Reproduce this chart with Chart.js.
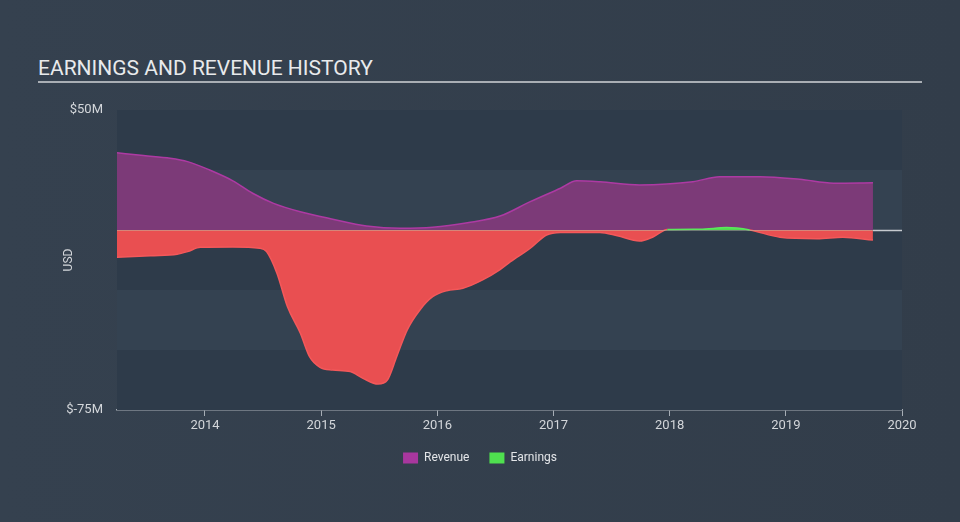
<!DOCTYPE html>
<html>
<head>
<meta charset="utf-8">
<title>Earnings and Revenue History</title>
<script src="https://cdn.jsdelivr.net/npm/chart.js@4.4.0/dist/chart.umd.min.js"></script>
<style>
  html, body { margin: 0; padding: 0; }
  body { width: 960px; height: 522px; background: linear-gradient(to right, #35414f, #323d4a); overflow: hidden; font-family: Roboto, sans-serif; }
  #wrap { position: relative; width: 960px; height: 522px; }
  #title { position: absolute; left: 38px; top: 58px; font-size: 21px; line-height: 21px; color: #e8eaec; letter-spacing: 0; white-space: nowrap; }
  #rule { position: absolute; left: 38px; top: 81px; width: 884px; height: 2px; background: #a9aeb4; }
  canvas { position: absolute; left: 0; top: 0; }
</style>
</head>
<body>
<div id="wrap">
  <div id="title">EARNINGS AND REVENUE HISTORY</div>
  <div id="rule"></div>
  <canvas id="myChart" width="960" height="522"></canvas>
</div>
<script>
// fechas en años decimales, valores en millones USD
const revenueDates = [2013.24, 2013.47, 2013.70, 2013.85, 2014.04, 2014.24, 2014.41, 2014.59, 2014.82, 2015.10,
  2015.39, 2015.68, 2015.96, 2016.26, 2016.54, 2016.80, 2017.06, 2017.20, 2017.40, 2017.74,
  2018.20, 2018.43, 2018.78, 2019.12, 2019.41, 2019.75];
const revenue = [32.2, 31.0, 29.9, 28.5, 25.0, 20.5, 15.3, 11.1, 7.6, 4.5,
  1.7, 0.7, 1.1, 3.0, 5.8, 11.8, 17.4, 20.5, 20.1, 18.8,
  20.1, 22.2, 22.2, 21.1, 19.5, 19.7];

const earningsDates = [2013.24, 2013.53, 2013.76, 2013.85, 2013.96, 2014.24, 2014.47, 2014.53, 2014.62, 2014.71,
  2014.82, 2014.90, 2014.99, 2015.10, 2015.25, 2015.36, 2015.49, 2015.57, 2015.65, 2015.74,
  2015.85, 2015.96, 2016.08, 2016.22, 2016.39, 2016.54, 2016.63, 2016.80, 2016.94, 2017.06,
  2017.40, 2017.55, 2017.74, 2017.86, 2017.98, 2018.26, 2018.49, 2018.69, 2018.95, 2019.27,
  2019.49, 2019.75];
const earnings = [-11.4, -10.7, -10.1, -9.0, -7.2, -7.1, -7.6, -9.0, -18.1, -32.0,
  -42.9, -52.8, -57.2, -58.3, -59.0, -61.8, -64.2, -62.5, -52.8, -41.7,
  -33.3, -27.8, -25.3, -24.3, -20.8, -16.5, -13.2, -7.6, -2.1, -1.0,
  -1.0, -2.4, -4.6, -2.8, 0.2, 0.3, 1.0, 0.0, -3.0, -3.6,
  -3.0, -4.2];

const xTicks = [2014, 2015, 2016, 2017, 2018, 2019, 2020];
const yMin = -75;
const yMax = 50;
const yStep = 25;

const tickColor = '#d3d6da';
const axisColor = '#a7aeb6';

// franjas horizontales y linea de cero
const bandPlugin = {
  id: 'bands',
  beforeDatasetsDraw(chart) {
    const { ctx, chartArea: a, scales: { y } } = chart;
    ctx.save();
    let i = 0;
    for (let v = yMax; v > yMin; v -= yStep) {
      const top = y.getPixelForValue(v);
      const bottom = y.getPixelForValue(v - yStep);
      ctx.fillStyle = i % 2 === 0 ? '#2e3b4a' : '#344251';
      ctx.fillRect(a.left, top, a.right - a.left, bottom - top);
      i++;
    }
    ctx.restore();
  },
  afterDatasetsDraw(chart) {
    const { ctx, chartArea: a, scales: { x, y } } = chart;
    const y0 = Math.round(y.getPixelForValue(0)) + 0.5;
    const end = x.getPixelForValue(revenueDates[revenueDates.length - 1]);
    ctx.save();
    ctx.lineWidth = 1;
    ctx.strokeStyle = 'rgba(190, 200, 170, 0.45)';
    ctx.beginPath();
    ctx.moveTo(a.left, y0);
    ctx.lineTo(end, y0);
    ctx.stroke();
    ctx.lineWidth = 1.5;
    ctx.strokeStyle = '#c6cacf';
    ctx.beginPath();
    ctx.moveTo(end, y0);
    ctx.lineTo(a.right, y0);
    ctx.stroke();
    ctx.restore();
  }
};

Chart.defaults.font.family = 'Roboto, sans-serif';

const ctx = document.getElementById('myChart');
new Chart(ctx, {
  type: 'line',
  data: {
    datasets: [
      {
        label: 'Revenue',
        data: revenueDates.map((d, i) => ({ x: d, y: revenue[i] })),
        borderColor: '#ad3aa3',
        borderWidth: 1.5,
        backgroundColor: '#7c3a78',
        fill: 'origin',
        pointRadius: 0,
        cubicInterpolationMode: 'monotone',
        order: 2
      },
      {
        label: 'Earnings',
        data: earningsDates.map((d, i) => ({ x: d, y: earnings[i] })),
        borderColor: '#f4585a',
        borderWidth: 1.5,
        segment: {
          borderColor: (c) => (c.p0.parsed.y >= 0 && c.p1.parsed.y >= 0) ? '#5be85b' : '#f4585a'
        },
        backgroundColor: '#e94f51',
        fill: { target: 'origin', above: '#4fdc4f', below: '#e94f51' },
        pointRadius: 0,
        cubicInterpolationMode: 'monotone',
        order: 1
      }
    ]
  },
  options: {
    responsive: false,
    animation: false,
    layout: { padding: { top: 110, right: 0, bottom: 48, left: 0 } },
    scales: {
      x: {
        type: 'linear',
        min: 2013.2425,
        max: 2020,
        afterBuildTicks: (scale) => { scale.ticks = xTicks.map(v => ({ value: v })); },
        afterFit: (scale) => { scale.height = 22; },
        ticks: {
          color: tickColor,
          font: { size: 13 },
          padding: 2,
          maxRotation: 0,
          callback: (v) => String(v)
        },
        grid: { drawOnChartArea: false, drawTicks: true, tickLength: 6, color: axisColor },
        border: { display: true, color: axisColor, width: 1.5 }
      },
      y: {
        min: yMin,
        max: yMax,
        afterFit: (scale) => { scale.width = 117; },
        ticks: {
          stepSize: yStep,
          color: tickColor,
          font: { size: 13 },
          padding: 14,
          callback: (v) => v === yMax ? '$50M' : (v === yMin ? '$-75M' : '')
        },
        grid: { display: false, drawTicks: false },
        border: { display: false },
        title: { display: true, text: 'USD', color: tickColor, font: { size: 12 }, padding: { top: 62, bottom: 0 } }
      },
      // eje vacio a la derecha para dejar el margen
      yRight: {
        position: 'right',
        min: yMin,
        max: yMax,
        afterFit: (scale) => { scale.width = 58; },
        ticks: { display: false },
        grid: { display: false, drawTicks: false },
        border: { display: false }
      }
    },
    plugins: {
      tooltip: { enabled: false },
      legend: {
        position: 'bottom',
        labels: {
          boxWidth: 15,
          boxHeight: 11,
          padding: 20,
          color: '#e3e5e8',
          font: { size: 12 },
          generateLabels: () => [
            { text: 'Revenue', fillStyle: '#a8379e', strokeStyle: '#a8379e', lineWidth: 0, fontColor: '#e3e5e8' },
            { text: 'Earnings', fillStyle: '#4fe04f', strokeStyle: '#4fe04f', lineWidth: 0, fontColor: '#e3e5e8' }
          ]
        }
      }
    }
  },
  plugins: [bandPlugin]
});
</script>
</body>
</html>
